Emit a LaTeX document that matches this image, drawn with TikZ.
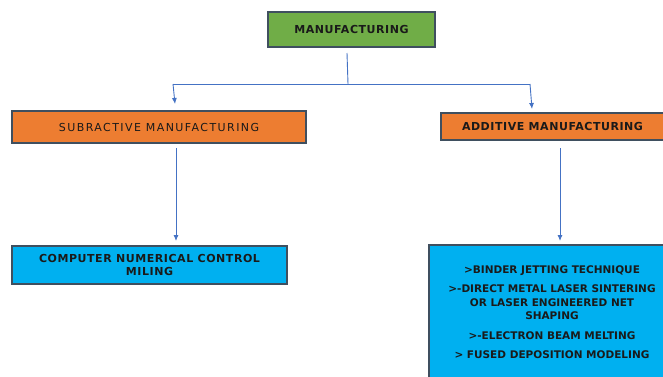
\documentclass[tikz,border=0pt]{standalone}
\usepackage{fontspec}
\setmainfont{DejaVu Sans}
\newfontfamily\boxfont[LetterSpace=5]{DejaVu Sans}
\newfontfamily\widefont[LetterSpace=13]{DejaVu Sans}
\usetikzlibrary{arrows.meta,positioning}
\definecolor{ink}{HTML}{1A1A1A}
\definecolor{edge}{HTML}{3F4F5F}
\definecolor{leaf}{HTML}{70AD47}
\definecolor{orange}{HTML}{ED7D31}
\definecolor{sky}{HTML}{00B0F0}
\definecolor{wire}{HTML}{4472C4}
\tikzset{
  box/.style={draw=edge, line width=1.2pt, align=center, inner sep=2pt, text=ink, font=\boxfont\bfseries\fontsize{11}{13.5}\selectfont},
  greenbox/.style={box, fill=leaf},
  orangebox/.style={box, fill=orange},
  bluebox/.style={box, fill=sky},
  arrow/.style={-{Latex[length=6pt,width=5pt]}, line width=0.9pt, draw=wire},
  wireline/.style={line width=0.9pt, draw=wire}
}
\begin{document}
\begin{tikzpicture}[x=1pt,y=-1pt]
\clip (0,0) rectangle (663,376);
\fill[white] (0,0) rectangle (663,376);
\node[greenbox, minimum width=167pt, minimum height=35pt] (man) at (351.5,29.5) {MANUFACTURING};
\node[orangebox, font=\widefont\fontsize{11}{13}\selectfont, minimum width=294pt, minimum height=32pt] (sub) at (159,127) {SUBRACTIVE MANUFACTURING};
\node[orangebox, minimum width=223pt, minimum height=27pt] (add) at (552.5,126.5) {ADDITIVE MANUFACTURING};
\node[bluebox, minimum width=275pt, minimum height=38pt] (cnc) at (149.5,265) {COMPUTER NUMERICAL CONTROL\\MILING};
\node[bluebox, font=\bfseries\fontsize{10.5}{13.5}\selectfont, minimum width=246pt, minimum height=134pt] (am) at (552,312) {%
>BINDER JETTING TECHNIQUE\\[6pt]
>-DIRECT METAL LASER SINTERING\\OR LASER ENGINEERED NET\\SHAPING\\[6pt]
>-ELECTRON BEAM MELTING\\[6pt]
> FUSED DEPOSITION MODELING};
% branch below the top box
\coordinate (stem) at (347,53);
\coordinate (fork) at (348,84);
\coordinate (lft) at (173,84);
\coordinate (rgt) at (530,84);
\coordinate (subin) at (175,104);
\coordinate (addin) at (532,109);
\coordinate (subout) at (176,148);
\coordinate (cncin) at (176,241);
\coordinate (addout) at (560,148);
\coordinate (amin) at (560,241);
\draw[wireline] (stem) -- (fork);
\draw[wireline] (lft) -- (rgt);
\draw[arrow] (lft) -- (subin);
\draw[arrow] (rgt) -- (addin);
\draw[arrow] (subout) -- (cncin);
\draw[arrow] (addout) -- (amin);
\end{tikzpicture}
\end{document}
